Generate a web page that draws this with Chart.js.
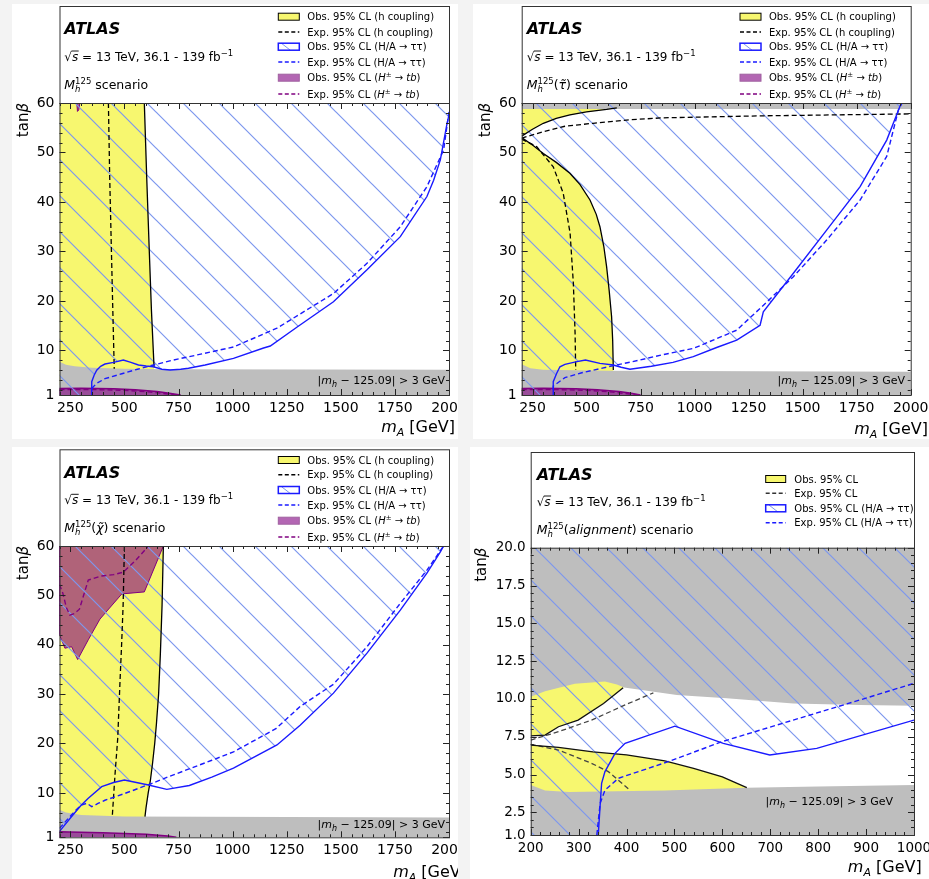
<!DOCTYPE html>
<html>
<head>
<meta charset="utf-8">
<title>ATLAS mA - tan beta exclusions</title>
<script src="https://cdn.jsdelivr.net/npm/chart.js@4.4.1/dist/chart.umd.min.js"></script>
<style>
  body { margin: 0; background: #f3f3f3; }
  .panel { position: absolute; background: #fff; }
  canvas { display: block; }
</style>
</head>
<body>
<div class="panel" style="left:12px;top:4px;width:446px;height:435px"><canvas id="c1" width="446" height="435"></canvas></div>
<div class="panel" style="left:473px;top:4px;width:456px;height:435px"><canvas id="c2" width="456" height="435"></canvas></div>
<div class="panel" style="left:12px;top:447px;width:446px;height:432px"><canvas id="c3" width="446" height="432"></canvas></div>
<div class="panel" style="left:470px;top:447px;width:459px;height:432px"><canvas id="c4" width="459" height="432"></canvas></div>
<script>
// ---- tick labels ----
const xTicksWide = [250, 500, 750, 1000, 1250, 1500, 1750, 2000];
const yTicksWide = [1, 10, 20, 30, 40, 50, 60];
const xTicksAlign = [200, 300, 400, 500, 600, 700, 800, 900, 1000];
const yTicksAlign = [1.0, 2.5, 5.0, 7.5, 10.0, 12.5, 15.0, 17.5, 20.0];

// ---- M_h^125 scenario  [m_A, tan beta] ----
const m125_hObs = [[592,60],[603,45],[615,30],[625,18],[637,6.6]];
const m125_hExp = [[426,60],[432,45],[440,30],[447,17],[453,6.3]];
const m125_ttObs = [[349,1],[349,3.7],[360,5.0],[372,6.0],[390,6.8],[410,7.26],[450,7.6],[495,8.07],[530,7.6],[565,7.06],[600,6.85],[634,6.7],[673,6.2],[711,6.05],[760,6.2],[796,6.4],[873,7.06],[1004,8.4],[1143,10.5],[1174,10.9],[1300,14.8],[1466,19.85],[1621,26.3],[1775,33.0],[1898,41.1],[1929,44.4],[1960,48.5],[1991,55.9],[2000,57.6]];
const m125_ttExp = [[349,2.3],[370,3.3],[410,4.3],[488,5.3],[560,6.2],[634,7.06],[720,8.0],[858,9.3],[1004,10.7],[1205,14.5],[1466,21.5],[1621,27.6],[1775,35.0],[1898,43.1],[1975,50.5],[2000,58.2]];
const m125_tbObs = [[200,1],[200,2.3],[300,2.35],[450,2.25],[550,2.05],[650,1.7],[700,1.4],[760,1]];
const m125_tbObsTop = [[280,60],[283,58.3],[289,58.6],[294,60]];
const m125_tbExp = [[200,2.1],[350,2.1],[500,1.95],[620,1.6],[700,1.2],[740,1]];
const m125_mhBand = [[200,1],[200,7.7],[230,7.1],[270,6.8],[350,6.5],[500,6.3],[700,6.2],[2000,6.1],[2000,1]];

// ---- M_h^125(stau) scenario ----
const tau_hObsUp = [[200,53.3],[250,54.7],[300,55.9],[360,56.9],[423,57.6],[500,58.2],[593,58.7],[640,59.0]];
const tau_hObsLow = [[200,53.0],[250,51.5],[300,49.8],[360,48.0],[423,45.8],[470,43.5],[516,40.4],[545,37.5],[562,35.0],[580,31],[593,26.9],[605,22],[616,16.8],[621,12],[624,6.05]];
const tau_hExpUp = [[200,52.9],[300,54.2],[400,55.3],[530,55.9],[700,56.6],[850,57.0],[1300,57.4],[2000,57.8]];
const tau_hExpLow = [[200,52.7],[269,51.2],[346,47.1],[392,41.8],[424,33.7],[439,23.6],[447,13.5],[450,6.05]];
const tau_ttObs = [[346,1],[346,3.7],[362,5.4],[377,6.7],[400,7.2],[450,7.7],[495,8.07],[562,7.4],[624,7.06],[660,6.6],[701,6.2],[800,6.8],[900,7.6],[994,8.74],[1102,10.6],[1195,12.1],[1303,15.1],[1318,17.8],[1457,25.6],[1611,34.3],[1766,43.1],[1889,52.5],[1950,59.3],[1958,60]];
const tau_ttExp = [[346,2.0],[346,2.8],[400,4.5],[478,5.5],[560,6.3],[616,6.85],[709,7.7],[848,9.1],[994,10.4],[1195,14.1],[1303,18.5],[1457,24.9],[1611,32.3],[1766,40.4],[1889,49.2],[1943,58.6],[1960,60]];
const tau_tbObs = [[200,1],[200,2.3],[300,2.35],[450,2.25],[550,2.05],[650,1.7],[700,1.4],[750,1]];
const tau_tbExp = [[200,2.1],[350,2.1],[500,1.95],[620,1.6],[700,1.2],[740,1]];
const tau_mhLow = [[200,1],[200,7.2],[240,6.4],[300,6.1],[600,5.9],[2000,5.7],[2000,1]];
const tau_mhHigh = [[200,58.8],[2000,58.8],[2000,60],[200,60]];

// ---- M_h^125(chi) scenario ----
const chi_hObs = [[680,60],[674,48],[666,38],[658,30],[648,24],[640,20],[630,16],[620,12.5],[610,10],[600,7],[595,5.2]];
const chi_hExp = [[500,60],[494,48],[487,40],[480,33],[469,21],[457,14],[444,5.3]];
const chi_ttObs = [[200,2.2],[256,5.2],[300,7.5],[333,8.9],[395,11.25],[450,12.1],[500,12.6],[611,11.6],[696,10.7],[800,11.5],[904,13.2],[1004,15.0],[1205,19.7],[1312,23.7],[1466,30.2],[1621,38.3],[1775,47.0],[1898,54.5],[1960,58.8],[1975,60]];
const chi_ttExp = [[200,2.8],[240,4.8],[280,6.7],[300,7.5],[326,7.9],[349,7.2],[380,7.9],[410,8.5],[503,9.9],[626,11.9],[700,13.2],[904,16.6],[1004,18.3],[1200,23],[1312,27.5],[1466,32],[1621,39.6],[1775,48.4],[1898,55.1],[1975,60]];
const chi_tbObs = [[200,60],[200,42.0],[225,39.3],[256,39.6],[284,37.0],[333,41.0],[387,45.2],[488,50.3],[592,50.7],[680,60]];
const chi_tbExp = [[200,52.2],[215,50.5],[232,47.5],[248,46.0],[268,46.3],[292,47.2],[333,53.1],[390,53.9],[450,54.2],[495,54.7],[550,57.0],[595,59.2],[610,60]];
const chi_tbObsLow = [[200,1],[200,2.1],[400,1.9],[600,1.6],[700,1.25],[740,1]];
const chi_mhBand = [[200,1],[200,6.6],[230,6.0],[300,5.5],[500,5.2],[2000,5.0],[2000,1]];

// ---- M_h^125(alignment) scenario ----
const al_hObsUp = [[200,7.55],[230,7.61],[258,8.16],[299,8.6],[352,9.7],[393,10.74]];
const al_hObsLow = [[200,6.95],[258,6.8],[330,6.5],[400,6.3],[480,5.9],[540,5.4],[600,4.85],[651,4.13]];
const al_hExpUp = [[200,7.28],[258,7.83],[327,8.6],[397,9.6],[456,10.4]];
const al_hExpLow = [[200,7.0],[258,6.62],[327,5.74],[362,5.19],[407,3.97]];
const al_ttObs = [[341,1],[345,3.0],[348,4.42],[355,5.19],[376,6.4],[397,7.06],[501,8.2],[602,7.06],[699,6.29],[797,6.73],[1000,8.6]];
const al_ttExp = [[338,1],[345,3.1],[355,3.97],[383,4.75],[487,5.85],[599,7.17],[748,8.6],[887,9.93],[1000,11.03]];
const al_mhHigh = [[200,20],[200,10.15],[230,10.5],[292,11.0],[355,11.15],[380,10.95],[395,10.75],[505,10.26],[609,10.04],[748,9.7],[887,9.6],[1000,9.55],[1000,20]];
const al_mhLow = [[200,1],[200,4.3],[230,3.95],[280,3.85],[480,3.95],[650,4.12],[800,4.2],[1000,4.3],[1000,1]];

// ---- styles ----
Chart.defaults.font.family = "'DejaVu Sans', sans-serif";
Chart.defaults.color = '#000';
const FONT = "'DejaVu Sans', sans-serif";
const YELLOW = '#f7f76f';
const GRAY = '#bebebe';
const PURPLE_FILL = 'rgba(128,0,128,0.6)';
const PURPLE = '#800080';
const BLUE = '#1a1aff';
const HATCH = '#7d97ee';

function hatchPattern(canvasId) {
  const s = 36;
  const c = document.createElement('canvas');
  c.width = s; c.height = s;
  const g = c.getContext('2d');
  g.strokeStyle = HATCH;
  g.lineWidth = 1.2;
  g.beginPath();
  for (const k of [-s, 0, s]) { g.moveTo(-2, -2 + k); g.lineTo(s + 2, s + 2 + k); }
  g.stroke();
  return document.getElementById(canvasId).getContext('2d').createPattern(c, 'repeat');
}

const pts = a => a.map(p => ({x: p[0], y: p[1]}));
function area(a, color, order, edge, ew) {
  return {data: pts(a), fill: 'shape', backgroundColor: color, borderColor: edge || 'rgba(0,0,0,0)',
          borderWidth: edge ? (ew || 1) : 0, pointRadius: 0, order: order};
}
function curve(a, color, dash, order, w) {
  return {data: pts(a), fill: false, borderColor: color, borderWidth: w || 1.4,
          borderDash: dash || [], pointRadius: 0, order: order};
}

// rich text: parts {t, s, i, b, dy, stack}
function rich(ctx, x, y, parts, align) {
  const fnt = p => (p.i ? 'italic ' : '') + (p.b ? 'bold ' : '') + p.s + 'px ' + FONT;
  const ws = parts.map(p => { ctx.font = fnt(p); return ctx.measureText(p.t).width; });
  let total = 0;
  parts.forEach((p, k) => { if (!p.stack) total += ws[k]; });
  let cx = align === 'right' ? x - total : x;
  const xs = [];
  ctx.textAlign = 'left';
  ctx.textBaseline = 'alphabetic';
  parts.forEach((p, k) => {
    ctx.font = fnt(p);
    ctx.fillText(p.t, cx, y + (p.dy || 0));
    xs.push(cx);
    if (!p.stack) cx += ws[k];
  });
  xs.push(cx);
  return xs;
}

const L = 10; // legend font size
const htb = (pre) => [{t: pre + ' (', s: L}, {t: 'H', s: L, i: true}, {t: '±', s: 7, dy: -4},
                      {t: ' → ', s: L}, {t: 'tb', s: L, i: true}, {t: ')', s: L}];
const legend6 = [
  {sw: 'box', fill: YELLOW, edge: '#000', label: [{t: 'Obs. 95% CL (h coupling)', s: L}]},
  {sw: 'dash', color: '#000', label: [{t: 'Exp. 95% CL (h coupling)', s: L}]},
  {sw: 'hatch', label: [{t: 'Obs. 95% CL (H/A → ττ)', s: L}]},
  {sw: 'dash', color: BLUE, label: [{t: 'Exp. 95% CL (H/A → ττ)', s: L}]},
  {sw: 'box', fill: PURPLE_FILL, edge: '#a060a0', label: htb('Obs. 95% CL')},
  {sw: 'dash', color: PURPLE, label: htb('Exp. 95% CL')}
];
const legend4 = [
  {sw: 'box', fill: YELLOW, edge: '#000', label: [{t: 'Obs. 95% CL', s: L}]},
  {sw: 'dash', color: '#333', label: [{t: 'Exp. 95% CL', s: L}]},
  {sw: 'hatch', label: [{t: 'Obs. 95% CL (H/A → ττ)', s: L}]},
  {sw: 'dash', color: BLUE, label: [{t: 'Exp. 95% CL (H/A → ττ)', s: L}]}
];
const scen = extra => [{t: 'M', s: 12.5, i: true}, {t: 'h', s: 8.5, i: true, dy: 3, stack: true},
                       {t: '125', s: 8.5, dy: -5}].concat(extra, [{t: ' scenario', s: 12.5}]);

function decor(c) {
  return {
    id: 'atlasDecor' + c.id,
    afterDatasetsDraw(chart) {
      const ctx = chart.ctx, a = chart.chartArea;
      const xs = chart.scales.x, ys = chart.scales.y;
      ctx.save();
      ctx.fillStyle = '#000';
      // region label
      rich(ctx, c.mh[0], c.mh[1], [{t: '|', s: 11}, {t: 'm', s: 11, i: true}, {t: 'h', s: 8, i: true, dy: 2.5},
                                   {t: ' − 125.09| > 3 GeV', s: 11}], 'right');
      // inward ticks on all sides
      ctx.strokeStyle = '#222';
      ctx.lineWidth = 1;
      ctx.beginPath();
      for (let k = 0; ; k++) {
        const v = c.xMin + k * c.xMinor;
        if (v > c.xMax + 1e-6) break;
        const len = c.xLabels.some(m => Math.abs(m - v) < 1e-6) ? 6 : 3;
        const px = Math.round(xs.getPixelForValue(v)) + 0.5;
        ctx.moveTo(px, a.bottom); ctx.lineTo(px, a.bottom - len);
        ctx.moveTo(px, a.top); ctx.lineTo(px, a.top + len);
      }
      const yv = c.yLabels.slice();
      for (let k = 0; ; k++) {
        const v = c.yMinorStart + k * c.yMinor;
        if (v > c.yMax + 1e-6) break;
        if (!yv.some(m => Math.abs(m - v) < 1e-6)) yv.push(v);
      }
      yv.forEach(v => {
        const len = c.yLabels.some(m => Math.abs(m - v) < 1e-6) ? 6 : 3;
        const py = Math.round(ys.getPixelForValue(v)) + 0.5;
        ctx.moveTo(a.left, py); ctx.lineTo(a.left + len, py);
        ctx.moveTo(a.right, py); ctx.lineTo(a.right - len, py);
      });
      ctx.stroke();
      // frame with header box
      ctx.strokeStyle = '#333';
      ctx.strokeRect(a.left + 0.5, c.headTop + 0.5, a.right - a.left, a.bottom - c.headTop);
      ctx.beginPath();
      ctx.moveTo(a.left, a.top + 0.5); ctx.lineTo(a.right, a.top + 0.5);
      ctx.stroke();
      // header text
      ctx.fillStyle = '#000';
      rich(ctx, c.textX, c.atlasY, [{t: 'ATLAS', s: 16, i: true, b: true}]);
      const sx = rich(ctx, c.textX, c.sqrtY, [{t: '√', s: 12}, {t: 's', s: 12, i: true},
        {t: ' = 13 TeV, 36.1 - 139 fb', s: 12}, {t: '−1', s: 8.5, dy: -5}]);
      ctx.beginPath();
      ctx.lineWidth = 0.9;
      ctx.moveTo(sx[1] - 0.5, c.sqrtY - 10); ctx.lineTo(sx[2] + 0.5, c.sqrtY - 10);
      ctx.strokeStyle = '#000';
      ctx.stroke();
      rich(ctx, c.textX, c.scenY, c.scen);
      // legend
      c.legend.forEach((it, k) => {
        const cy = c.rows[k], x0 = c.swL, w = c.swW, h = 7;
        if (it.sw === 'dash') {
          ctx.setLineDash([4, 2.5]);
          ctx.strokeStyle = it.color;
          ctx.lineWidth = 1.5;
          ctx.beginPath(); ctx.moveTo(x0, cy); ctx.lineTo(x0 + w, cy); ctx.stroke();
          ctx.setLineDash([]);
        } else {
          ctx.fillStyle = it.sw === 'hatch' ? '#fff' : it.fill;
          ctx.fillRect(x0, cy - h / 2, w, h);
          if (it.sw === 'hatch') {
            ctx.beginPath(); ctx.lineWidth = 1; ctx.strokeStyle = HATCH;
            ctx.moveTo(x0 + 3, cy - h / 2); ctx.lineTo(x0 + 12, cy + h / 2); ctx.stroke();
          }
          ctx.lineWidth = it.sw === 'hatch' ? 1.5 : 1;
          ctx.strokeStyle = it.sw === 'hatch' ? BLUE : it.edge;
          ctx.strokeRect(x0, cy - h / 2, w, h);
        }
        ctx.fillStyle = '#000';
        rich(ctx, c.txL, cy + 3.6, it.label);
      });
      // axis titles
      rich(ctx, c.xTitle[0], c.xTitle[1], [{t: 'm', s: 16, i: true}, {t: 'A', s: 11, i: true, dy: 4},
                                           {t: ' [GeV]', s: 16}], 'right');
      ctx.save();
      ctx.translate(c.yTitleX, a.top);
      ctx.rotate(-Math.PI / 2);
      rich(ctx, 0, 5, [{t: 'tan', s: 15}, {t: 'β', s: 15, i: true}], 'right');
      ctx.restore();
      ctx.restore();
    }
  };
}

function makeChart(c) {
  new Chart(document.getElementById(c.id), {
    type: 'line',
    data: {datasets: c.datasets},
    options: {
      animation: false,
      responsive: false,
      events: [],
      layout: {padding: c.pad},
      plugins: {legend: {display: false}, tooltip: {enabled: false}},
      scales: {
        x: {
          type: 'linear', min: c.xMin, max: c.xMax,
          grid: {display: false, drawTicks: false}, border: {display: false},
          ticks: {font: {size: c.fs}, color: '#000', padding: 5, maxRotation: 0, autoSkip: false,
                  callback: v => String(v)},
          afterBuildTicks: s => { s.ticks = c.xLabels.map(v => ({value: v})); },
          afterFit: s => { s.height = c.xH; s.paddingLeft = 0; s.paddingRight = 0; }
        },
        y: {
          type: 'linear', min: c.yMin, max: c.yMax,
          grid: {display: false, drawTicks: false}, border: {display: false},
          ticks: {font: {size: c.fs}, color: '#000', padding: 5, autoSkip: false,
                  callback: v => c.yFmt ? v.toFixed(1) : String(v)},
          afterBuildTicks: s => { s.ticks = c.yLabels.map(v => ({value: v})); },
          afterFit: s => { s.width = c.yW; s.paddingTop = 0; s.paddingBottom = 0; }
        }
      }
    },
    plugins: [decor(c)]
  });
}

const wide = {xMin: 200, xMax: 2000, yMin: 1, yMax: 60, xLabels: xTicksWide, yLabels: yTicksWide,
              xMinor: 50, yMinor: 2, yMinorStart: 2, fs: 14, swW: 21, legend: legend6};

makeChart(Object.assign({}, wide, {
  id: 'c1', pad: {left: 0, top: 99, right: 9, bottom: 0}, yW: 47.5, xH: 44,
  headTop: 2, textX: 52.3, atlasY: 30, sqrtY: 57, scenY: 84.6, scen: scen([]),
  swL: 266.3, txL: 295.3, rows: [12.7, 28, 42.7, 58, 73.7, 90],
  mh: [433, 380], xTitle: [443, 428], yTitleX: 11.3,
  datasets: [
    area([[200, 60]].concat(m125_hObs, [[640, 3], [200, 3]]), YELLOW, 10),
    area(m125_mhBand, GRAY, 9),
    area(m125_tbObs, PURPLE_FILL, 8, PURPLE, 1.5),
    area(m125_tbObsTop, PURPLE_FILL, 8, PURPLE),
    area([[200, 60], [200, 1]].concat(m125_ttObs, [[2000, 60]]), hatchPattern('c1'), 7),
    curve(m125_tbExp, PURPLE, [5, 3], 5),
    curve(m125_hObs, '#000', [], 4, 1.3),
    curve(m125_hExp, '#000', [5, 3], 4, 1.3),
    curve(m125_ttExp, BLUE, [5, 3], 3),
    curve(m125_ttObs, BLUE, [], 3)
  ]
}));

makeChart(Object.assign({}, wide, {
  id: 'c2', pad: {left: 0, top: 99, right: 18.3, bottom: 0}, yW: 48.7, xH: 44,
  headTop: 2, textX: 53.7, atlasY: 30, sqrtY: 57, scenY: 84.6,
  scen: scen([{t: '(', s: 12.5}, {t: 'τ\u0303', s: 12.5, i: true}, {t: ')', s: 12.5}]),
  swL: 267, txL: 296, rows: [12.7, 28, 42.7, 58, 73.7, 90],
  mh: [432, 380], xTitle: [455, 430], yTitleX: 12,
  datasets: [
    area([[200, 60]].concat(tau_hObsUp, [[640, 60]]), YELLOW, 10),
    area(tau_hObsLow.concat([[624, 3], [200, 3]]), YELLOW, 10),
    area(tau_mhLow, GRAY, 9),
    area(tau_mhHigh, GRAY, 9),
    area(tau_tbObs, PURPLE_FILL, 8, PURPLE, 1.5),
    area([[200, 60], [200, 1]].concat(tau_ttObs), hatchPattern('c2'), 7),
    curve(tau_tbExp, PURPLE, [5, 3], 5),
    curve(tau_hObsUp, '#000', [], 4, 1.3),
    curve(tau_hObsLow, '#000', [], 4, 1.3),
    curve(tau_hExpUp, '#000', [5, 3], 4, 1.3),
    curve(tau_hExpLow, '#000', [5, 3], 4, 1.3),
    curve(tau_ttExp, BLUE, [5, 3], 3),
    curve(tau_ttObs, BLUE, [], 3)
  ]
}));

makeChart(Object.assign({}, wide, {
  id: 'c3', pad: {left: 0, top: 99, right: 9, bottom: 0}, yW: 47.5, xH: 41.7,
  headTop: 2.3, textX: 52.3, atlasY: 30.5, sqrtY: 57.3, scenY: 84.6,
  scen: scen([{t: '(', s: 12.5}, {t: 'χ\u0303', s: 12.5, i: true}, {t: ')', s: 12.5}]),
  swL: 266.3, txL: 295.3, rows: [13, 27.7, 43, 58, 73.7, 90],
  mh: [433, 381], xTitle: [455, 430], yTitleX: 11.3,
  datasets: [
    area([[200, 60]].concat(chi_hObs, [[595, 3], [200, 3]]), YELLOW, 10),
    area(chi_mhBand, GRAY, 9),
    area(chi_tbObs, PURPLE_FILL, 8, PURPLE),
    area(chi_tbObsLow, PURPLE_FILL, 8, PURPLE, 1.5),
    area([[200, 60]].concat(chi_ttObs), hatchPattern('c3'), 7),
    curve(chi_tbExp, PURPLE, [5, 3], 5),
    curve(chi_hObs, '#000', [], 4, 1.3),
    curve(chi_hExp, '#000', [5, 3], 4, 1.3),
    curve(chi_ttExp, BLUE, [5, 3], 3),
    curve(chi_ttObs, BLUE, [], 3)
  ]
}));

makeChart({
  id: 'c4', xMin: 200, xMax: 1000, yMin: 1, yMax: 20, xLabels: xTicksAlign, yLabels: yTicksAlign,
  xMinor: 20, yMinor: 0.5, yMinorStart: 1, fs: 13.5, yFmt: true, swW: 20, legend: legend4,
  pad: {left: 0, top: 100.7, right: 15, bottom: 0}, yW: 60.7, xH: 44,
  headTop: 5, textX: 66.7, atlasY: 33, sqrtY: 59, scenY: 86.6,
  scen: scen([{t: '(', s: 12.5}, {t: 'alignment', s: 12.5, i: true}, {t: ')', s: 12.5}]),
  swL: 295.7, txL: 324.3, rows: [32, 46.3, 61.3, 75.7],
  mh: [423, 358], xTitle: [451.7, 425], yTitleX: 10.7,
  datasets: [
    area(al_hObsUp.concat([[400, 11.5], [200, 11.5]]), YELLOW, 10),
    area(al_hObsLow.concat([[651, 3.5], [200, 3.5]]), YELLOW, 10),
    area(al_mhHigh, GRAY, 9),
    area(al_mhLow, GRAY, 9),
    area([[200, 20], [200, 1]].concat(al_ttObs, [[1000, 20]]), hatchPattern('c4'), 7),
    curve(al_hObsUp, '#111', [], 4, 1.3),
    curve(al_hObsLow, '#111', [], 4, 1.3),
    curve(al_hExpUp, '#444', [5, 3], 4, 1.3),
    curve(al_hExpLow, '#444', [5, 3], 4, 1.3),
    curve(al_ttExp, BLUE, [5, 3], 3),
    curve(al_ttObs, BLUE, [], 3)
  ]
});
</script>
</body>
</html>
